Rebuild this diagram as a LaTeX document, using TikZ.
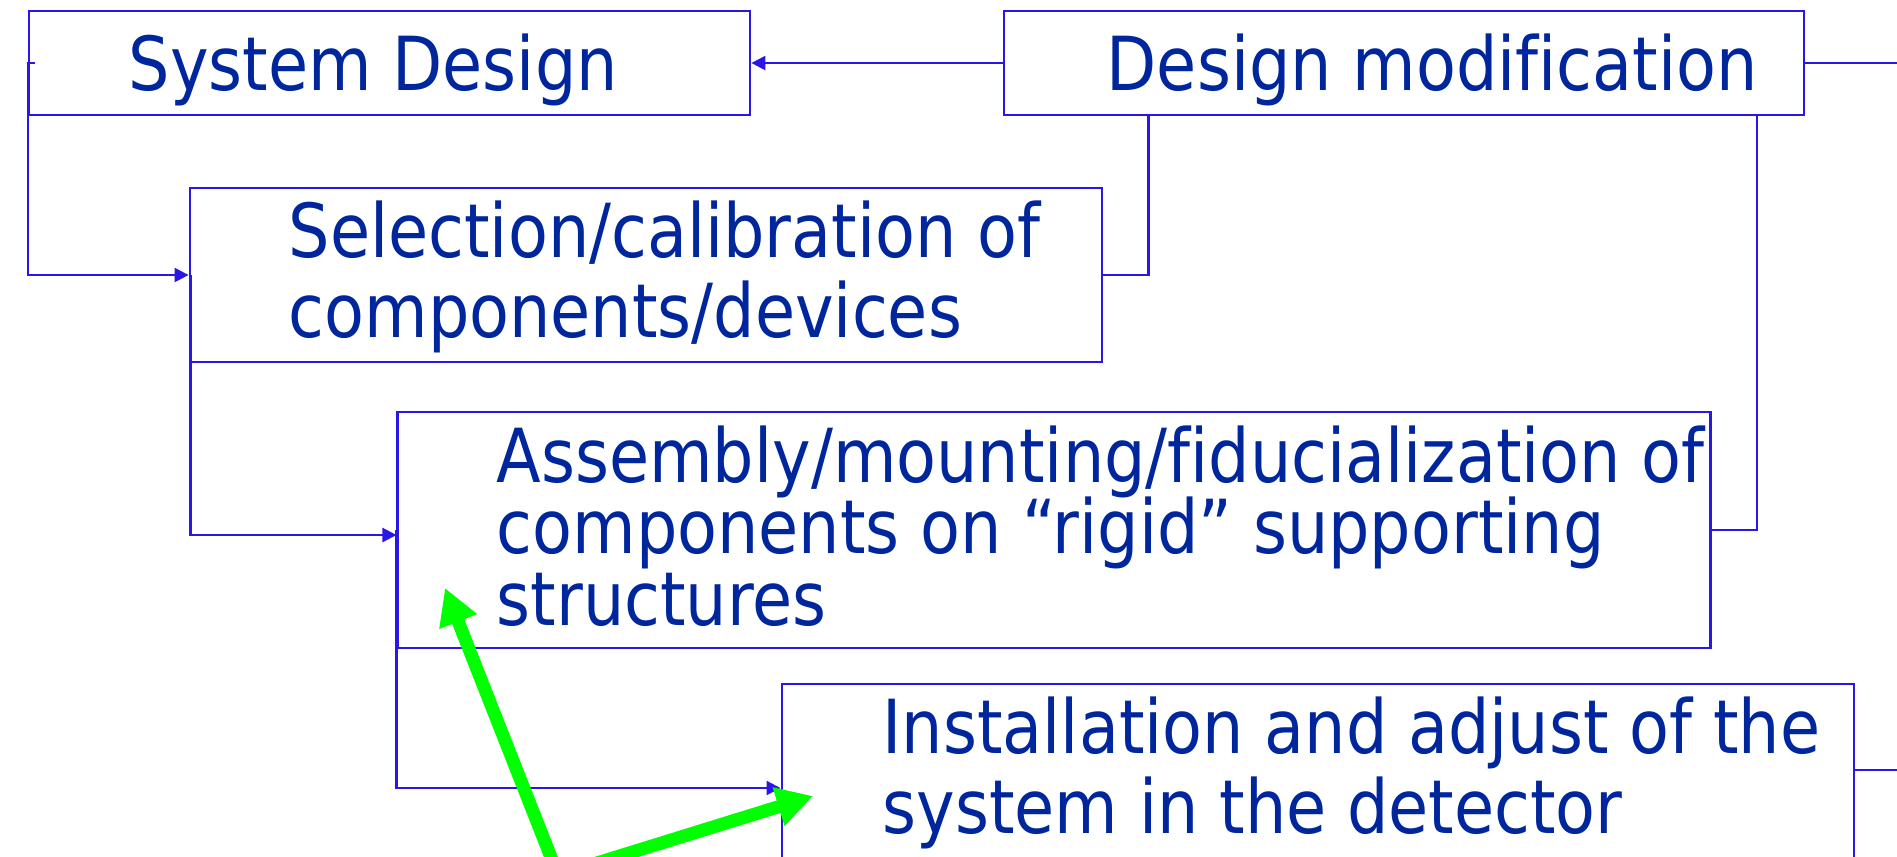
\documentclass[tikz,border=0pt]{standalone}
\usepackage{fontspec}
\setmainfont{DejaVu Sans}[FakeStretch=0.875, Ligatures=NoCommon]
\usetikzlibrary{arrows.meta,calc}
\definecolor{traitbleu}{RGB}{43,22,232}
\definecolor{textebleu}{RGB}{0,38,158}
\definecolor{vertvif}{RGB}{0,255,0}
\begin{document}
\begin{tikzpicture}[x=0.01cm, y=-0.01cm]
\tikzset{boite/.style={draw=traitbleu, line width=0.65pt, rectangle, inner sep=0pt},
  texte/.style={anchor=base west, inner sep=0pt, text=textebleu, font=\fontsize{21.2}{24}\selectfont},
  lien/.style={draw=traitbleu, line width=0.65pt},
  fleche/.style={-{Triangle[length=0.14cm, width=0.14cm]}},
  indic/.style={draw=vertvif, line width=0.13cm, -{Triangle[length=0.36cm, width=0.38cm]}}}
\useasboundingbox (0,0) rectangle (1897,856);
\clip (0,0) rectangle (1897,856);
\node[boite, minimum width=7.21cm, minimum height=1.04cm] (SD) at (389.5,63) {};
\node[boite, minimum width=8cm, minimum height=1.04cm] (DM) at (1404,63) {};
\node[boite, minimum width=9.12cm, minimum height=1.74cm] (Sel) at (646,275) {};
\node[boite, minimum width=13.12cm, minimum height=2.36cm] (Asm) at (1054,530) {};
\node[boite, minimum width=10.72cm, minimum height=2.08cm] (Inst) at (1318,788) {};
\node[texte] (SDt) at (128,90) {System Design};
\node[texte] (DMt) at (1106,90) {Design modification};
\node[texte] (Selt1) at (288,257) {Selection/calibration of};
\node[texte] (Selt2) at (288,337) {components/devices};
\node[texte] (Asmt1) at (496,482) {Assembly/mounting/fiducialization of};
\node[texte] (Asmt2) at (496,553) {components on “rigid” supporting};
\node[texte] (Asmt3) at (496,625) {structures};
\node[texte] (Instt1) at (882,753) {Installation and adjust of the};
\node[texte] (Instt2) at (882,833) {system in the detector};
\coordinate (DMout) at (1897,63);
\coordinate (Instout) at (1897,770);
\coordinate (src) at (558,875);
\coordinate (AsmTip) at (445,588);
\coordinate (InstTip) at (813,796);
\draw[lien, fleche] (DM.west) -- (SD.east);
\draw[lien] (DM.east) -- (DMout);
\draw[lien, fleche] ($(SD.west)+(7,0)$) -- (SD.west) |- (Sel.west);
\draw[lien, fleche] ($(Sel.west)+(2,0)$) |- ($(Asm.west)+(0,5)$);
\draw[lien, fleche] (Asm.west) |- (Inst.west);
\draw[lien] ($(DM.south west)+(146,0)$) |- (Sel.east);
\draw[lien] ($(DM.south west)+(754,0)$) |- (Asm.east);
\draw[lien] ($(Inst.east)+(0,-18)$) -- (Instout);
\draw[indic] (src) -- (AsmTip);
\draw[indic] (src) -- (InstTip);
\end{tikzpicture}
\end{document}
